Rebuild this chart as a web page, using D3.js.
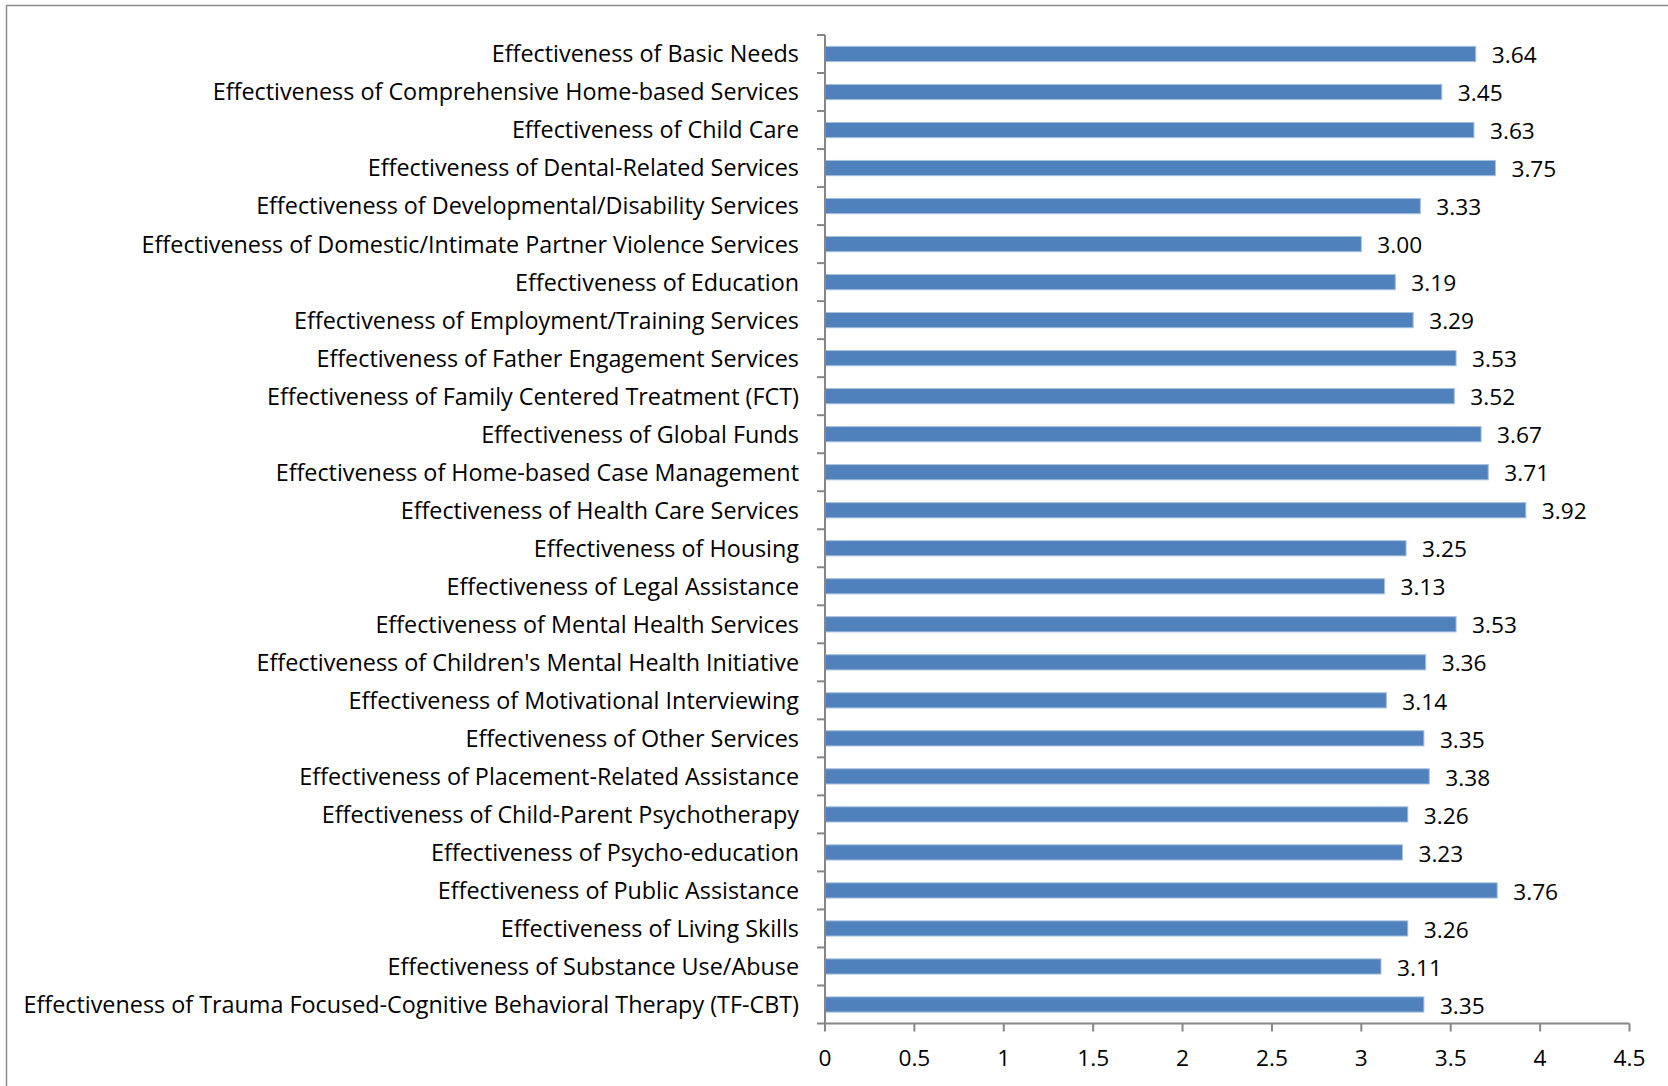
<!DOCTYPE html>
<html><head><meta charset="utf-8">
<script src="https://cdn.jsdelivr.net/npm/d3@7"></script>
<style>html,body{margin:0;padding:0;background:#fff;overflow:hidden}</style>
</head><body>
<svg id="c" width="1668" height="1086"></svg>
<script>
const categories = [
"Effectiveness of Basic Needs",
"Effectiveness of Comprehensive Home-based Services",
"Effectiveness of Child Care",
"Effectiveness of Dental-Related Services",
"Effectiveness of Developmental/Disability Services",
"Effectiveness of Domestic/Intimate Partner Violence Services",
"Effectiveness of Education",
"Effectiveness of Employment/Training Services",
"Effectiveness of Father Engagement Services",
"Effectiveness of Family Centered Treatment (FCT)",
"Effectiveness of Global Funds",
"Effectiveness of Home-based Case Management",
"Effectiveness of Health Care Services",
"Effectiveness of Housing",
"Effectiveness of Legal Assistance",
"Effectiveness of Mental Health Services",
"Effectiveness of Children's Mental Health Initiative",
"Effectiveness of Motivational Interviewing",
"Effectiveness of Other Services",
"Effectiveness of Placement-Related Assistance",
"Effectiveness of Child-Parent Psychotherapy",
"Effectiveness of Psycho-education",
"Effectiveness of Public Assistance",
"Effectiveness of Living Skills",
"Effectiveness of Substance Use/Abuse",
"Effectiveness of Trauma Focused-Cognitive Behavioral Therapy (TF-CBT)"
];
const values = [3.64,3.45,3.63,3.75,3.33,3.00,3.19,3.29,3.53,3.52,3.67,3.71,3.92,3.25,3.13,3.53,3.36,3.14,3.35,3.38,3.26,3.23,3.76,3.26,3.11,3.35];
const xTicks = [0,0.5,1,1.5,2,2.5,3,3.5,4,4.5];
const xTickLabels = ["0","0.5","1","1.5","2","2.5","3","3.5","4","4.5"];

(function(){
const svg = d3.select("#c");
const font = "'Open Sans', sans-serif";
const axisColor = "#868686";
const fs = 23.35, fsv = 22.7;

svg.append("rect").attr("x",6.5).attr("y",5.5).attr("width",1700).attr("height",1200)
  .attr("fill","none").attr("stroke","#8c8c8c").attr("stroke-width",1.5);

const pL = 825, pR = 1629.5, pT = 35, pB = 1023.5;
const x = d3.scaleLinear().domain([0,4.5]).range([pL,pR]);
const y = d3.scaleBand().domain(categories).range([pT,pB]).paddingInner(0.6).paddingOuter(0.3);
const yb = d3.scaleBand().domain(categories).range([pT,pB]);

svg.append("g").selectAll("rect").data(values).join("rect")
  .attr("x", x(0)).attr("y",(d,i)=>y(categories[i]))
  .attr("width",d=>x(d)-x(0)).attr("height",y.bandwidth())
  .attr("fill","#4f81bd").attr("stroke","#a7c0de").attr("stroke-width",1);

svg.append("g").selectAll("text").data(values).join("text")
  .attr("x",d=>x(d)+16).attr("y",(d,i)=>yb(categories[i])+yb.bandwidth()/2+1)
  .attr("dy","0.36em").attr("font-family",font).attr("font-size",fsv).attr("fill","#000")
  .text(d=>d.toFixed(2));

const ya = svg.append("g");
ya.append("line").attr("x1",pL).attr("x2",pL).attr("y1",pT).attr("y2",pB)
  .attr("stroke",axisColor).attr("stroke-width",2);
const bounds = categories.map(c=>yb(c)).concat([pB]);
ya.selectAll("line.t").data(bounds).join("line").attr("class","t")
  .attr("x1",pL-8).attr("x2",pL).attr("y1",d=>d).attr("y2",d=>d)
  .attr("stroke",axisColor).attr("stroke-width",2);
ya.selectAll("text").data(categories).join("text")
  .attr("x",pL-26).attr("y",d=>yb(d)+yb.bandwidth()/2)
  .attr("dy","0.36em").attr("text-anchor","end")
  .attr("font-family",font).attr("font-size",fs).attr("fill","#000").text(d=>d);

const xa = svg.append("g");
xa.append("line").attr("x1",pL).attr("x2",pR).attr("y1",pB).attr("y2",pB)
  .attr("stroke",axisColor).attr("stroke-width",2);
xa.selectAll("line.t").data(xTicks).join("line").attr("class","t")
  .attr("x1",d=>x(d)).attr("x2",d=>x(d)).attr("y1",pB).attr("y2",pB+8)
  .attr("stroke",axisColor).attr("stroke-width",2);
xa.selectAll("text").data(xTicks).join("text")
  .attr("x",d=>x(d)).attr("y",1058).attr("dy","0.36em").attr("text-anchor","middle")
  .attr("font-family",font).attr("font-size",fsv).attr("fill","#000")
  .text((d,i)=>xTickLabels[i]);
})();
</script>
</body></html>
